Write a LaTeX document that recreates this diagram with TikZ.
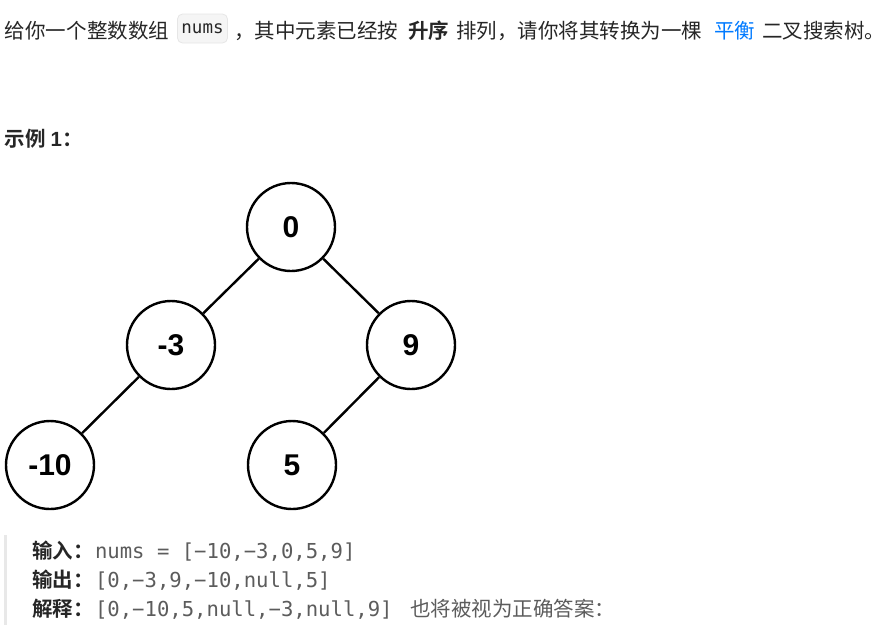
\documentclass[tikz,border=0pt]{standalone}
\usepackage{fontspec}
\setmainfont{Liberation Sans}
\newfontfamily\cjk{Noto Sans CJK SC}
\newfontfamily\cjkb{Noto Sans CJK SC Bold}
\newfontfamily\monof{DejaVu Sans Mono}
\newfontfamily\arialb{Liberation Sans Bold}
\definecolor{txt}{HTML}{262626}
\definecolor{gtxt}{HTML}{5C5C5C}
\definecolor{linkc}{HTML}{007AFF}
\definecolor{codebg}{HTML}{F5F5F5}
\definecolor{codebd}{HTML}{E6E6E6}
\definecolor{barc}{HTML}{E8E8E8}
\begin{document}
\begin{tikzpicture}[x=1pt,y=-1pt,
  tnode/.style={circle,draw=black,line width=2.4pt,minimum size=88pt,inner sep=0pt,font=\fontsize{30}{30}\selectfont\arialb},
  tedge/.style={line width=2.4pt,black},
  seg/.style={anchor=base west,inner sep=0pt,outer sep=0pt,text=txt,font=\fontsize{20.5}{24}\selectfont\cjk},
  segb/.style={seg,font=\fontsize{20.5}{24}\selectfont\cjkb},
  mono/.style={anchor=base west,inner sep=0pt,outer sep=0pt,text=gtxt,font=\fontsize{20.6}{24}\selectfont\monof},
  glab/.style={seg,text=gtxt}]
\useasboundingbox (0,0) rectangle (882,625);
% first line
\node[seg] (t1) at (5,38.5) {给你一个整数数组};
\node[draw=codebd,fill=codebg,rounded corners=5pt,line width=0.8pt,minimum width=50pt,minimum height=29pt,inner sep=0pt,text=txt,font=\fontsize{17.5}{20}\selectfont\monof] (code) at (202.5,28.5) {nums};
\node[seg] (t2) at (234,38.5) {，其中元素已经按};
\node[segb] (t3) at (408,38.5) {升序};
\node[seg] (t4) at (456,38.5) {排列，请你将其转换为一棵};
\node[seg,text=linkc] (t5) at (714,38.5) {平衡};
\node[seg] (t6) at (762,38.5) {二叉搜索树。};
% example heading
\node[segb] (ex) at (5,146) {示例 {\fontsize{20.5}{24}\selectfont\arialb 1}：};
% tree
\node[tnode] (n0) at (291,227) {0};
\node[tnode] (nm3) at (171,345) {-3};
\node[tnode] (n9) at (411,345) {9};
\node[tnode] (nm10) at (50,465) {-10};
\node[tnode] (n5) at (292,465) {5};
\draw[tedge] (n0) -- (nm3);
\draw[tedge] (n0) -- (n9);
\draw[tedge] (nm3) -- (nm10);
\draw[tedge] (n9) -- (n5);
% bottom block
\fill[barc] (3.5,535) rectangle (6.5,625);
\node[segb] (l1) at (32,558) {输入：};
\node[mono] (c1) at (95,558) {nums = [−10,−3,0,5,9]};
\node[segb] (l2) at (32,587) {输出：};
\node[mono] (c2) at (95,587) {[0,−3,9,−10,null,5]};
\node[segb] (l3) at (32,616) {解释：};
\node[mono] (c3) at (95,616) {[0,−10,5,null,−3,null,9]};
\node[glab] (c4) at (410,616) {也将被视为正确答案：};
\end{tikzpicture}
\end{document}
